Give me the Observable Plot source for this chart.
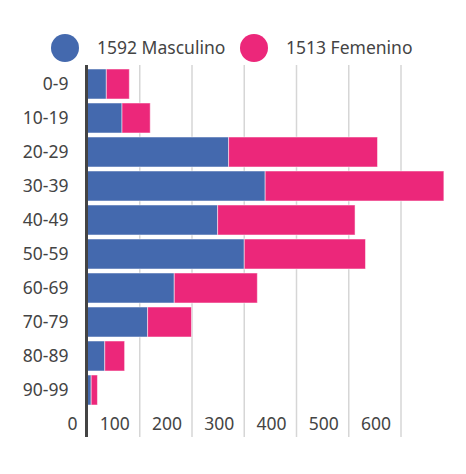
<!DOCTYPE html>
<html lang="es">
<head>
<meta charset="utf-8">
<title>Casos por grupo de edad y sexo</title>
<script src="https://cdn.jsdelivr.net/npm/d3@7"></script>
<script src="https://cdn.jsdelivr.net/npm/@observablehq/plot@0.6"></script>
<style>
  body {
    margin: 0;
    width: 466px;
    font-family: 'Noto Sans', sans-serif;
    color: #444;
  }
  #legend {
    position: relative;
    height: 60px;
  }
  .swatch {
    position: absolute;
    top: 34px;
    width: 28px;
    height: 28px;
    border-radius: 50%;
  }
  .label {
    position: absolute;
    top: 35px;
    font-size: 17.5px;
    line-height: 24px;
  }
</style>
</head>
<body>
  <div id="legend"></div>
  <div id="graphic"></div>

<script>
  // edades y casos
  var groups = ["0-9", "10-19", "20-29", "30-39", "40-49", "50-59", "60-69", "70-79", "80-89", "90-99"];
  var masculino = [37, 67, 271, 341, 250, 301, 167, 116, 34, 8];
  var femenino = [44, 54, 285, 342, 263, 232, 159, 84, 38, 12];
  var series = ["Masculino", "Femenino"];
  var colors = ["#4469ae", "#ec277a"];
  var xTicks = [0, 100, 200, 300, 400, 500, 600];

  var data = [];
  groups.forEach((g, i) => {
    data.push({grupo: g, sexo: "Masculino", casos: masculino[i]});
    data.push({grupo: g, sexo: "Femenino", casos: femenino[i]});
  });

  var totals = [d3.sum(masculino), d3.sum(femenino)];
  var legendX = [51, 240];
  var legend = document.getElementById('legend');
  series.forEach((s, i) => {
    var sw = document.createElement('div');
    sw.className = 'swatch';
    sw.style.left = legendX[i] + 'px';
    sw.style.background = colors[i];
    legend.appendChild(sw);
    var lb = document.createElement('div');
    lb.className = 'label';
    lb.style.left = (legendX[i] + 46) + 'px';
    lb.textContent = totals[i] + ' ' + s;
    legend.appendChild(lb);
  });

  var options = {
    width: 466,
    height: 414,
    marginTop: 5,
    marginBottom: 37,
    marginLeft: 87,
    marginRight: 0,
    style: {fontSize: "17.5px", fontFamily: "'Noto Sans', sans-serif", color: "#444"},
    x: {domain: [0, 700], range: [87, 452.75]},
    y: {domain: groups, range: [7, 347], paddingInner: 0.12, paddingOuter: 0.06},
    color: {domain: series, range: colors},
    marks: [
      Plot.gridX(xTicks.slice(1), {stroke: "#d6d6d6", strokeOpacity: 1, strokeWidth: 1.5}),
      Plot.barX(data, Plot.stackX({y: "grupo", x: "casos", fill: "sexo", order: series,
        stroke: "white", strokeOpacity: 0.5, strokeWidth: 1})),
      Plot.ruleX([0], {stroke: "#444", strokeWidth: 3, dx: -1}),
      Plot.axisY({tickSize: 0, tickPadding: 19, label: null, fill: "#444"}),
      Plot.axisX(xTicks, {tickSize: 0, tickPadding: 0, label: null, textAnchor: "end", dx: -10, dy: -20, fill: "#444"})
    ]
  };
  document.getElementById('graphic').appendChild(Plot.plot(options));
</script>
</body>
</html>
